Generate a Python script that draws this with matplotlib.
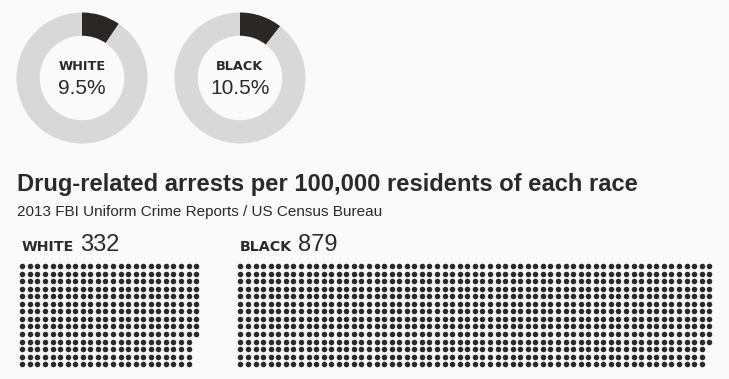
import matplotlib.pyplot as plt
import numpy as np

# share of each race reporting drug use (donuts) and arrests per 100k (dot grids)
races = ["WHITE", "BLACK"]
share_pct = [9.5, 10.5]
arrests_per_100k = [332, 879]
rows_per_col = 14

title = "Drug-related arrests per 100,000 residents of each race"
subtitle = "2013 FBI Uniform Crime Reports / US Census Bureau"

bg = "#fafafa"
ring = "#d8d8d8"
dark = "#2b2727"
ink = "#2a2a2a"

W, H = 729, 379
fig = plt.figure(figsize=(W / 100, H / 100), dpi=100, facecolor=bg)

# donuts
donut_cx = [82, 240]
donut_cy = 78
donut_r = 65.5
for cx, pct in zip(donut_cx, share_pct):
    dax = fig.add_axes([(cx - donut_r) / W, (H - donut_cy - donut_r) / H,
                        2 * donut_r / W, 2 * donut_r / H])
    dax.pie([pct, 100 - pct], colors=[dark, ring], startangle=90,
            counterclock=False, radius=1,
            wedgeprops=dict(width=0.355, linewidth=0))
    dax.set_xlim(-1, 1)
    dax.set_ylim(-1, 1)
    dax.set_aspect("equal")
    dax.axis("off")

# main axes in pixel coords
ax = fig.add_axes([0, 0, 1, 1])
ax.set_xlim(0, W)
ax.set_ylim(H, 0)
ax.patch.set_alpha(0)
ax.axis("off")

for cx, name, pct in zip(donut_cx, races, share_pct):
    ax.text(cx, 69.5, name, ha="center", va="baseline", fontsize=9.3,
            fontweight="bold", family="DejaVu Sans", color=ink)
    ax.text(cx, 93.5, f"{pct}%", ha="center", va="baseline", fontsize=15,
            family="Liberation Sans", color=ink)

ax.text(17, 191.5, title, ha="left", va="baseline", fontsize=17.1,
        fontweight="bold", family="Liberation Sans", color=ink)
ax.text(17, 216, subtitle, ha="left", va="baseline", fontsize=11,
        family="Liberation Sans", color=ink)

# dot grids
grid_x0 = [22.3, 240.5]
label_num_x = [80, 298.5]
grid_y0 = 266
step = 7.56
for x0, nx, name, n in zip(grid_x0, label_num_x, races, arrests_per_100k):
    idx = np.arange(n)
    col = idx // rows_per_col
    row = idx % rows_per_col
    ax.scatter(x0 + col * step, grid_y0 + row * step, s=16, color=ink,
               linewidths=0)
    ax.text(x0 - 0.5, 251, name, ha="left", va="baseline", fontsize=10.3,
            fontweight="bold", family="DejaVu Sans", color=ink)
    ax.text(nx, 251, str(n), ha="left", va="baseline", fontsize=17,
            family="Liberation Sans", color=ink)

fig.savefig("out.png", dpi=100, facecolor=bg)
